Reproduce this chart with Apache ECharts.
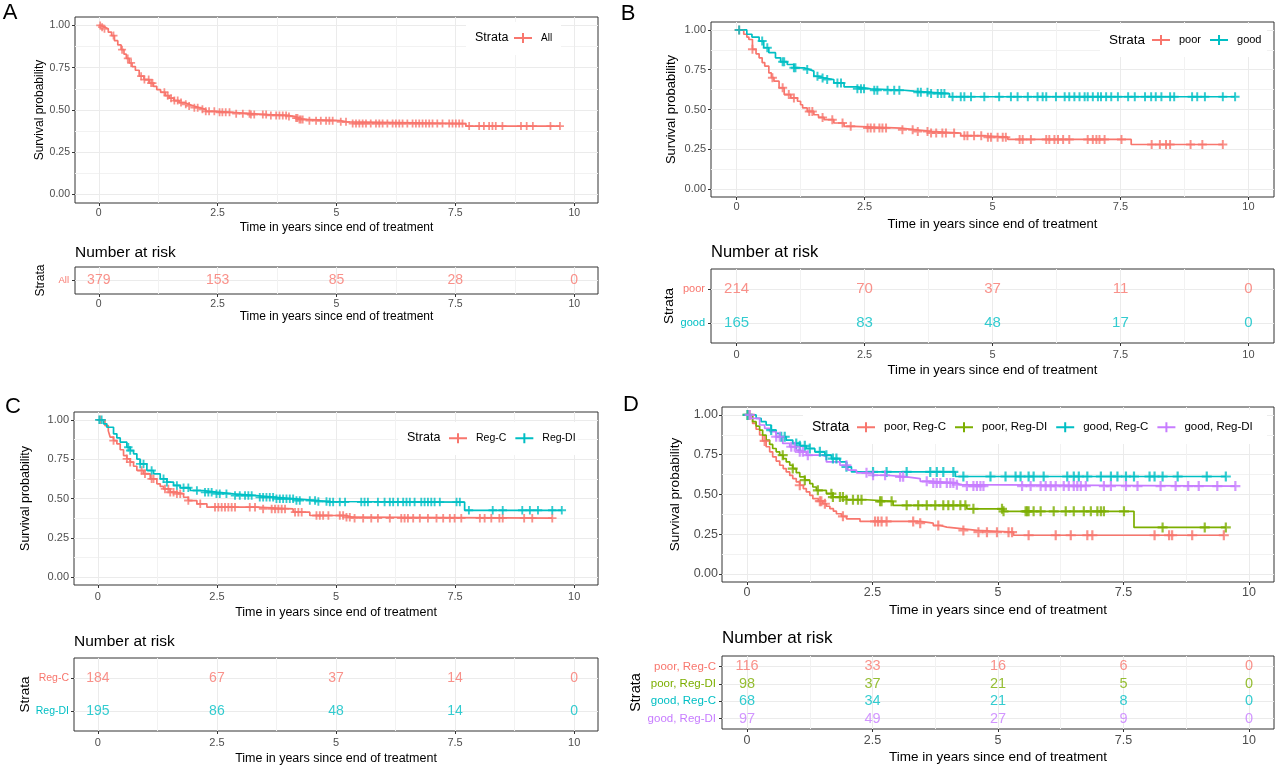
<!DOCTYPE html>
<html><head><meta charset="utf-8">
<script src="https://cdn.jsdelivr.net/npm/echarts@6/dist/echarts.min.js"></script>
<style>html,body{margin:0;padding:0;background:#fff}#c{width:1280px;height:774px}</style>
</head><body><div id="c"></div>
<script>
// ---------- shared axis data ----------
const xTicks = [0, 2.5, 5, 7.5, 10];
const xTickLabels = ['0', '2.5', '5', '7.5', '10'];
const xMinor = [1.25, 3.75, 6.25, 8.75];
const yTicks = [0, 0.25, 0.5, 0.75, 1];
const yTickLabels = ['0.00', '0.25', '0.50', '0.75', '1.00'];
const yMinor = [0.125, 0.375, 0.625, 0.875];
const riskTimes = [0, 2.5, 5, 7.5, 10];
const xTitle = 'Time in years since end of treatment';
const yTitle = 'Survival probability';

// ---------- Panel A : All ----------
const aStrata = ['All'];
const aAllT = [0.05,0.12,0.2,0.27,0.33,0.4,0.47,0.53,0.58,0.64,0.7,0.77,0.85,0.95,1.06,1.15,1.22,1.3,1.4,1.48,1.58,1.69,1.8,1.9,2.0,2.11,2.25,2.45,2.8,3.2,3.55,3.95,4.12,4.22,4.3,5.08,5.22,7.72];
const aAllS = [0.99,0.98,0.96,0.94,0.91,0.885,0.857,0.83,0.805,0.778,0.757,0.735,0.7,0.68,0.659,0.64,0.62,0.605,0.585,0.57,0.556,0.544,0.534,0.524,0.514,0.504,0.492,0.486,0.478,0.473,0.468,0.462,0.452,0.444,0.437,0.43,0.42,0.405];
const aAllC = [0.03,0.07,0.12,0.31,0.49,0.61,0.68,0.89,0.96,1.05,1.1,1.13,1.38,1.45,1.52,1.59,1.66,1.73,1.83,1.9,2.01,2.08,2.18,2.25,2.32,2.43,2.54,2.6,2.67,2.75,2.89,3.03,3.17,3.2,3.27,3.45,3.52,3.62,3.73,3.8,3.87,3.94,4.0,4.15,4.18,4.22,4.25,4.29,4.43,4.57,4.67,4.78,4.85,4.92,5.09,5.2,5.34,5.41,5.48,5.55,5.62,5.72,5.83,5.9,5.97,6.07,6.18,6.25,6.32,6.39,6.49,6.6,6.67,6.74,6.81,6.88,6.95,7.02,7.12,7.23,7.37,7.44,7.51,7.58,7.65,7.79,8.0,8.1,8.21,8.28,8.35,8.49,8.88,9.0,9.13,9.5,9.7];
const aRiskAll = [379, 153, 85, 28, 0];

// ---------- Panel B : poor / good ----------
const bStrata = ['poor', 'good'];
const bPoorT = [0.14,0.2,0.24,0.31,0.38,0.44,0.5,0.55,0.63,0.68,0.73,0.83,0.93,1.06,1.19,1.25,1.29,1.38,1.51,1.6,1.71,1.9,2.1,2.3,3.21,3.47,3.8,4.38,4.84,5.3,7.71];
const bPoorS = [0.973,0.955,0.94,0.878,0.85,0.825,0.795,0.773,0.73,0.7,0.678,0.636,0.594,0.573,0.552,0.53,0.51,0.488,0.467,0.45,0.436,0.415,0.394,0.383,0.373,0.362,0.352,0.335,0.326,0.312,0.28];
const bPoorC = [0.05,0.31,0.7,0.9,1.02,1.12,1.42,1.48,1.68,1.87,2.07,2.23,2.56,2.62,2.69,2.79,2.85,2.92,3.24,3.44,3.54,3.73,3.8,3.9,4.02,4.09,4.25,4.45,4.51,4.64,4.78,4.91,4.97,5.1,5.2,5.26,5.53,5.59,5.75,6.05,6.11,6.21,6.28,6.38,6.5,6.86,6.96,7.03,7.09,7.19,7.52,8.11,8.27,8.39,8.47,8.87,9.1,9.5];
const bGoodT = [0.2,0.3,0.44,0.53,0.63,0.76,0.86,0.99,1.12,1.32,1.42,1.51,1.6,1.71,1.9,2.1,2.36,2.62,3.27,3.47,3.8,4.16];
const bGoodS = [0.973,0.955,0.93,0.888,0.857,0.825,0.8,0.783,0.762,0.752,0.741,0.709,0.698,0.688,0.667,0.642,0.63,0.621,0.615,0.608,0.6,0.58];
const bGoodC = [0.05,0.5,0.6,0.9,0.93,1.12,1.15,1.38,1.58,1.68,1.77,1.97,2.04,2.36,2.43,2.49,2.69,2.75,2.95,3.08,3.18,3.54,3.6,3.73,3.8,3.93,4.0,4.06,4.22,4.38,4.45,4.58,4.84,5.13,5.36,5.49,5.69,5.88,5.98,6.05,6.24,6.41,6.5,6.6,6.7,6.8,6.86,6.96,7.06,7.12,7.22,7.32,7.45,7.65,7.78,7.98,8.1,8.19,8.3,8.47,8.55,8.9,9.0,9.15,9.5,9.74];
const bRiskPoor = [214, 70, 37, 11, 0];
const bRiskGood = [165, 83, 48, 17, 0];

// ---------- Panel C : Reg-C / Reg-DI ----------
const cStrata = ['Reg-C', 'Reg-DI'];
const cRegCT = [0.15,0.22,0.26,0.33,0.4,0.47,0.54,0.61,0.68,0.75,0.82,0.96,1.1,1.24,1.31,1.38,1.52,1.66,1.8,1.9,2.08,2.29,3.33,4.1,4.45,5.22,5.35];
const cRegCS = [0.964,0.93,0.89,0.868,0.847,0.81,0.773,0.752,0.731,0.705,0.678,0.657,0.625,0.593,0.577,0.561,0.54,0.53,0.508,0.487,0.466,0.445,0.434,0.413,0.392,0.381,0.375];
const cRegCC = [0.05,0.33,0.61,0.68,0.92,0.99,1.13,1.17,1.41,1.48,1.52,1.59,1.66,1.73,1.9,2.15,2.46,2.53,2.6,2.67,2.74,2.81,2.88,3.19,3.3,3.47,3.65,3.72,3.79,3.86,3.93,4.14,4.21,4.28,4.59,4.66,4.73,4.84,5.08,5.15,5.22,5.29,5.39,5.57,5.74,5.88,6.13,6.37,6.44,6.51,6.62,6.76,6.93,7.11,7.25,7.39,7.49,7.63,8.02,8.12,8.26,8.43,8.5,8.95,9.12,9.54];
const cRegDIT = [0.12,0.19,0.33,0.4,0.47,0.61,0.68,0.75,0.82,0.89,1.03,1.17,1.31,1.45,1.59,1.73,1.94,2.22,2.49,2.85,3.33,3.75,4.17,4.59,4.87,7.7];
const cRegDIS = [0.975,0.953,0.911,0.885,0.858,0.826,0.805,0.784,0.75,0.72,0.678,0.657,0.625,0.604,0.583,0.568,0.551,0.54,0.53,0.519,0.508,0.498,0.487,0.481,0.477,0.425];
const cRegDIC = [0.03,0.08,0.64,0.68,0.89,0.96,1.13,1.38,1.45,1.66,1.8,1.9,2.08,2.25,2.32,2.39,2.49,2.56,2.7,2.88,2.98,3.09,3.16,3.23,3.4,3.47,3.54,3.61,3.68,3.75,3.82,3.89,3.96,4.03,4.1,4.17,4.24,4.45,4.56,4.63,4.8,4.87,4.94,5.08,5.19,5.53,5.6,5.67,5.88,6.02,6.13,6.2,6.3,6.41,6.48,6.55,6.65,6.79,6.86,6.93,7.0,7.07,7.18,7.53,7.6,7.79,8.29,8.5,8.91,9.07,9.24,9.54,9.74];
const cRiskRegC = [184, 67, 37, 14, 0];
const cRiskRegDI = [195, 86, 48, 14, 0];

// ---------- Panel D : four strata ----------
const dStrata = ['poor, Reg-C', 'poor, Reg-DI', 'good, Reg-C', 'good, Reg-DI'];
const dPoorCT = [0.11,0.18,0.25,0.31,0.38,0.45,0.51,0.58,0.65,0.72,0.78,0.85,0.91,0.98,1.05,1.12,1.18,1.25,1.31,1.42,1.51,1.58,1.65,1.72,1.78,1.88,1.98,2.25,3.45,3.71,3.85,3.98,4.31,4.58,5.31];
const dPoorCS = [0.947,0.91,0.874,0.837,0.8,0.768,0.737,0.71,0.684,0.663,0.642,0.62,0.6,0.579,0.558,0.537,0.516,0.495,0.474,0.458,0.442,0.426,0.411,0.395,0.379,0.363,0.347,0.331,0.32,0.305,0.295,0.284,0.274,0.263,0.244];
const dPoorCC = [0.05,0.35,1.05,1.45,1.48,1.55,1.91,2.55,2.61,2.68,2.78,3.31,3.45,3.81,4.31,4.61,4.78,4.98,5.21,5.28,5.61,6.15,6.45,6.78,6.88,8.12,8.41,8.47,8.87,9.5];
const dPoorDIT = [0.11,0.18,0.25,0.31,0.38,0.45,0.51,0.58,0.65,0.72,0.78,0.85,0.91,0.98,1.05,1.15,1.25,1.31,1.38,1.58,1.71,1.98,2.38,2.91,4.38,5.11,7.71];
const dPoorDIS = [0.958,0.93,0.905,0.873,0.842,0.815,0.789,0.768,0.747,0.726,0.705,0.684,0.663,0.637,0.611,0.59,0.568,0.547,0.526,0.505,0.484,0.467,0.457,0.432,0.41,0.394,0.293];
const dPoorDIC = [0.01,0.71,0.91,1.15,1.41,1.68,1.71,1.85,1.91,1.98,2.11,2.21,2.28,2.65,2.68,2.88,3.18,3.41,3.58,3.75,3.91,4.01,4.11,4.25,4.35,4.51,5.08,5.11,5.55,5.58,5.61,5.71,5.85,6.11,6.35,6.51,6.71,6.85,6.98,7.05,7.11,7.51,8.28,9.12,9.54];
const dGoodCT = [0.18,0.28,0.38,0.48,0.58,0.65,0.78,0.91,1.05,1.18,1.35,1.55,1.68,1.85,1.98,2.08,4.15];
const dGoodCS = [0.979,0.958,0.937,0.905,0.884,0.863,0.842,0.821,0.806,0.789,0.768,0.747,0.726,0.705,0.674,0.642,0.613];
const dGoodCC = [0.01,0.48,0.68,0.75,0.98,1.05,1.15,1.25,1.45,1.58,1.71,1.78,1.98,2.51,2.78,3.18,3.65,3.78,3.91,4.11,4.31,4.85,5.15,5.35,5.45,5.61,5.71,5.91,6.38,6.51,6.61,6.78,7.05,7.25,7.38,7.55,7.71,8.02,8.12,8.28,8.58,9.16,9.54];
const dGoodDIT = [0.08,0.25,0.35,0.45,0.58,0.71,0.85,0.98,1.05,1.18,1.51,1.58,1.85,2.01,2.18,2.51,2.78,3.18,3.45,3.71,4.15,4.25];
const dGoodDIS = [0.979,0.937,0.916,0.895,0.863,0.821,0.8,0.779,0.768,0.747,0.737,0.705,0.684,0.653,0.636,0.621,0.611,0.6,0.583,0.573,0.562,0.553];
const dGoodDIC = [0.05,0.58,0.65,0.88,0.95,1.05,1.11,1.21,1.98,2.38,2.51,2.75,3.05,3.11,3.58,3.71,3.78,3.85,3.98,4.05,4.11,4.18,4.38,4.51,4.58,4.65,4.71,5.48,5.65,5.85,5.95,6.05,6.15,6.31,6.41,6.51,6.58,6.65,6.75,7.11,7.25,7.55,7.78,8.24,8.54,8.79,9.0,9.37,9.73];
const dRiskPoorC = [116, 33, 16, 6, 0];
const dRiskPoorDI = [98, 37, 21, 5, 0];
const dRiskGoodC = [68, 34, 21, 8, 0];
const dRiskGoodDI = [97, 49, 27, 9, 0];

// ---------- styling / layout ----------
const FONT = "'Liberation Sans', Arial, sans-serif";
const COL2 = ['#F8766D', '#00BFC4'];
const COL4 = ['#F8766D', '#7CAE00', '#00BFC4', '#C77CFF'];
const PLUS = 'path://M3.9,0H6.1V3.9H10V6.1H6.1V10H3.9V6.1H0V3.9H3.9Z';
const LEG_ICON = 'path://M0,4.1H18V5.9H0Z M8,0H10V10H8Z';
const GRID_MAJOR = '#EBEBEB', GRID_MINOR = '#F2F2F2';

const panels = [
  { letter: 'A', letterXY: [10, 13], strata: aStrata, colors: [COL2[0]],
    curves: [{ t: aAllT, s: aAllS, c: aAllC }], risk: [aRiskAll],
    main: { left: 75, top: 17, width: 523, height: 186 }, rg: { left: 75, top: 267, width: 523, height: 27 },
    f: { tick: 10.5, title: 12, risk: 14, nar: 15.5, lt: 12.5, li: 10, row: 9.5, st: 12, cens: 8 },
    yNameGap: 28, xLabM: 5, xNameGap: 19, yLabM: 5, rowM: 6, rxLabM: 5, rxNameGap: 17, stGap: 28, narY: 253,
    leg: { stLeft: 475, cy: 38, left: 514, rect: [466, 22, 95, 33] } },
  { letter: 'B', letterXY: [628, 14], strata: bStrata, colors: COL2,
    curves: [{ t: bPoorT, s: bPoorS, c: bPoorC }, { t: bGoodT, s: bGoodS, c: bGoodC }], risk: [bRiskPoor, bRiskGood],
    main: { left: 711, top: 22, width: 563, height: 175 }, rg: { left: 711, top: 269, width: 563, height: 74 },
    f: { tick: 11, title: 13, risk: 15, nar: 16.5, lt: 13.5, li: 11, row: 11, st: 13.5, cens: 9 },
    yNameGap: 33.5, xLabM: 4.5, xNameGap: 20.5, yLabM: 5, rowM: 6, rxLabM: 6.5, rxNameGap: 20.5, stGap: 33, narY: 252,
    leg: { stLeft: 1109, cy: 40, left: 1152, rect: [1100, 24, 167, 33] } },
  { letter: 'C', letterXY: [13, 407], strata: cStrata, colors: COL2,
    curves: [{ t: cRegCT, s: cRegCS, c: cRegCC }, { t: cRegDIT, s: cRegDIS, c: cRegDIC }], risk: [cRiskRegC, cRiskRegDI],
    main: { left: 74, top: 412, width: 524, height: 173 }, rg: { left: 74, top: 658, width: 524, height: 73 },
    f: { tick: 11, title: 12.5, risk: 14, nar: 15.5, lt: 12.5, li: 10.5, row: 10.5, st: 13.5, cens: 8.5 },
    yNameGap: 41.5, xLabM: 6.5, xNameGap: 21.5, yLabM: 5, rowM: 5, rxLabM: 6.5, rxNameGap: 21.5, stGap: 41, narY: 642,
    leg: { stLeft: 407, cy: 438, left: 449, rect: [398, 422, 180, 33] } },
  { letter: 'D', letterXY: [631, 405], strata: dStrata, colors: COL4,
    curves: [{ t: dPoorCT, s: dPoorCS, c: dPoorCC }, { t: dPoorDIT, s: dPoorDIS, c: dPoorDIC },
             { t: dGoodCT, s: dGoodCS, c: dGoodCC }, { t: dGoodDIT, s: dGoodDIS, c: dGoodDIC }],
    risk: [dRiskPoorC, dRiskPoorDI, dRiskGoodC, dRiskGoodDI],
    main: { left: 722, top: 407, width: 552, height: 175 }, rg: { left: 722, top: 656, width: 552, height: 73 },
    f: { tick: 12.5, title: 13.5, risk: 14.5, nar: 17, lt: 14, li: 11.5, row: 11.5, st: 14.5, cens: 10 },
    yNameGap: 40, xLabM: 4.5, xNameGap: 21, yLabM: 4, rowM: 6, rxLabM: 5.5, rxNameGap: 21, stGap: 78, narY: 638,
    leg: { stLeft: 812, cy: 427, left: 857, rect: [803, 410, 464, 34] } }
];

function survAt(T, S, t) {
  let s = 1;
  for (let i = 0; i < T.length; i++) { if (T[i] <= t) s = S[i]; else break; }
  return s;
}
function lookup(ticks, labels) { return v => { const i = ticks.indexOf(v); return i >= 0 ? labels[i] : ''; }; }

const option = { animation: false, backgroundColor: '#fff', textStyle: { fontFamily: FONT },
  grid: [], xAxis: [], yAxis: [], series: [], legend: [], graphic: [] };

function minorAxis(gi, min, max, vals, pos) {
  return { type: 'value', gridIndex: gi, min: min, max: max, position: pos,
    axisLine: { show: false, onZero: false }, axisLabel: { show: false },
    axisTick: { show: false, customValues: vals },
    splitLine: { show: true, lineStyle: { color: GRID_MINOR, width: 1 } } };
}

panels.forEach(p => {
  const n = p.strata.length;
  const gMain = option.grid.length;
  option.grid.push(Object.assign({ show: true, borderColor: '#333333', borderWidth: 1 }, p.main));
  option.grid.push(Object.assign({ show: true, borderColor: '#333333', borderWidth: 1 }, p.rg));
  const gRisk = gMain + 1;

  // main axes
  const xi = option.xAxis.length;
  option.xAxis.push({ type: 'value', gridIndex: gMain, min: -0.5, max: 10.5, position: 'bottom',
    name: xTitle, nameLocation: 'middle', nameGap: p.xNameGap,
    nameTextStyle: { color: '#000', fontSize: p.f.title, fontFamily: FONT },
    axisLine: { show: false, onZero: false },
    axisTick: { show: true, length: 3, customValues: xTicks, lineStyle: { color: '#333' } },
    axisLabel: { customValues: xTicks, formatter: lookup(xTicks, xTickLabels), color: '#4D4D4D', fontSize: p.f.tick, margin: p.xLabM, fontFamily: FONT },
    splitLine: { show: true, lineStyle: { color: GRID_MAJOR, width: 1 } } });
  option.xAxis.push(minorAxis(gMain, -0.5, 10.5, xMinor, 'top'));
  const yi = option.yAxis.length;
  option.yAxis.push({ type: 'value', gridIndex: gMain, min: -0.05, max: 1.05, position: 'left',
    name: yTitle, nameLocation: 'middle', nameGap: p.yNameGap,
    nameTextStyle: { color: '#000', fontSize: p.f.title, fontFamily: FONT },
    axisLine: { show: false, onZero: false },
    axisTick: { show: true, length: 3, customValues: yTicks, lineStyle: { color: '#333' } },
    axisLabel: { customValues: yTicks, formatter: lookup(yTicks, yTickLabels), color: '#4D4D4D', fontSize: p.f.tick, margin: p.yLabM, fontFamily: FONT },
    splitLine: { show: true, lineStyle: { color: GRID_MAJOR, width: 1 } } });
  option.yAxis.push(minorAxis(gMain, -0.05, 1.05, yMinor, 'right'));

  // risk axes
  const rxi = option.xAxis.length;
  option.xAxis.push({ type: 'value', gridIndex: gRisk, min: -0.5, max: 10.5, position: 'bottom',
    name: xTitle, nameLocation: 'middle', nameGap: p.rxNameGap,
    nameTextStyle: { color: '#000', fontSize: p.f.title, fontFamily: FONT },
    axisLine: { show: false, onZero: false },
    axisTick: { show: true, length: 3, customValues: xTicks, lineStyle: { color: '#333' } },
    axisLabel: { customValues: xTicks, formatter: lookup(xTicks, xTickLabels), color: '#4D4D4D', fontSize: p.f.tick, margin: p.rxLabM, fontFamily: FONT },
    splitLine: { show: true, lineStyle: { color: GRID_MAJOR, width: 1 } } });
  option.xAxis.push(minorAxis(gRisk, -0.5, 10.5, xMinor, 'top'));
  const rows = []; for (let k = 1; k <= n; k++) rows.push(k);
  const rich = {};
  p.strata.forEach((s, i) => { rich['s' + i] = { color: p.colors[i], fontSize: p.f.row, fontFamily: FONT }; });
  const ryi = option.yAxis.length;
  option.yAxis.push({ type: 'value', gridIndex: gRisk, min: 0.4, max: n + 0.6, position: 'left',
    name: 'Strata', nameLocation: 'middle', nameGap: p.stGap,
    nameTextStyle: { color: '#000', fontSize: p.f.st, fontFamily: FONT },
    axisLine: { show: false, onZero: false },
    axisTick: { show: true, length: 3, customValues: rows, lineStyle: { color: '#333' } },
    axisLabel: { customValues: rows, margin: p.rowM, rich: rich,
      formatter: v => { const i = n - v; return '{s' + i + '|' + p.strata[i] + '}'; } },
    splitLine: { show: true, lineStyle: { color: GRID_MAJOR, width: 1 } } });

  // curves + censor marks
  p.curves.forEach((cv, i) => {
    const col = p.colors[i];
    const last = cv.s[cv.s.length - 1];
    const end = Math.max(cv.t[cv.t.length - 1], Math.max.apply(null, cv.c));
    const data = [[0, 1]].concat(cv.t.map((t, k) => [t, cv.s[k]])).concat([[end, last]]);
    option.series.push({ type: 'line', name: p.strata[i], xAxisIndex: xi, yAxisIndex: yi, step: 'end',
      data: data, showSymbol: false, symbol: 'none', color: col, itemStyle: { color: col },
      lineStyle: { color: col, width: 1.7 }, silent: true, z: 3 });
    option.series.push({ type: 'scatter', name: p.strata[i] + ' (censored)', xAxisIndex: xi, yAxisIndex: yi,
      data: cv.c.map(t => [t, survAt(cv.t, cv.s, t)]), symbol: PLUS, symbolSize: p.f.cens,
      itemStyle: { color: col }, silent: true, z: 4 });
  });

  // risk table numbers
  p.risk.forEach((r, i) => {
    option.series.push({ type: 'scatter', name: p.strata[i] + ' (at risk)', xAxisIndex: rxi, yAxisIndex: ryi,
      data: riskTimes.map((t, k) => [t, n - i, r[k]]), symbolSize: 1, itemStyle: { color: 'rgba(0,0,0,0)' },
      label: { show: true, position: 'inside', formatter: q => String(q.value[2]), color: p.colors[i], fontSize: p.f.risk, fontFamily: FONT },
      silent: true, z: 4 });
  });

  // legend
  const lh = Math.max(10, p.f.li);
  option.legend.push({ data: p.strata, left: p.leg.left, top: p.leg.cy - lh / 2, orient: 'horizontal',
    itemWidth: 18, itemHeight: 10, itemGap: 9, icon: LEG_ICON, selectedMode: false, padding: 0,
    textStyle: { fontSize: p.f.li, color: '#000', fontFamily: FONT, padding: [0, 0, 0, 4] } });
  const rc = p.leg.rect;
  option.graphic.push({ type: 'rect', shape: { x: rc[0], y: rc[1], width: rc[2], height: rc[3] }, style: { fill: '#fff' }, z: 1, silent: true });
  option.graphic.push({ type: 'text', x: p.leg.stLeft, y: p.leg.cy, z: 10, silent: true,
    style: { text: 'Strata', fill: '#000', fontSize: p.f.lt, fontFamily: FONT, align: 'left', verticalAlign: 'middle' } });
  // titles
  option.graphic.push({ type: 'text', x: p.rg.left, y: p.narY, z: 10, silent: true,
    style: { text: 'Number at risk', fill: '#000', fontSize: p.f.nar, fontFamily: FONT, align: 'left', verticalAlign: 'middle' } });
  option.graphic.push({ type: 'text', x: p.letterXY[0], y: p.letterXY[1], z: 10, silent: true,
    style: { text: p.letter, fill: '#000', fontSize: 22, fontFamily: FONT, align: 'center', verticalAlign: 'middle' } });
});

const chart = echarts.init(document.getElementById('c'), null, { renderer: 'canvas' });
chart.setOption(option);
</script></body></html>
